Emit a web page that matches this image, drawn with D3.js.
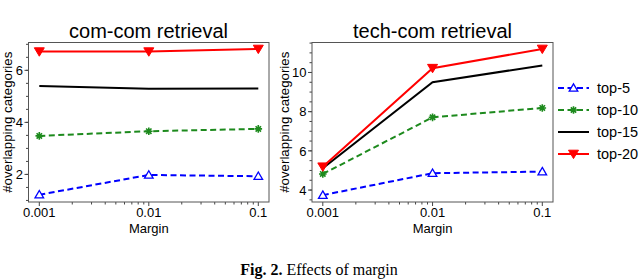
<!DOCTYPE html>
<html>
<head>
<meta charset="utf-8">
<script src="https://d3js.org/d3.v7.min.js"></script>
<style>
  body { margin: 0; background: #fff; }
  svg { display: block; }
  text { font-family: "Liberation Sans", Arial, sans-serif; fill: #000; }
</style>
</head>
<body>
<svg id="chart" width="640" height="279"></svg>
<script>
var margins = [0.001, 0.01, 0.1];
var seriesNames = ['top-5', 'top-10', 'top-15', 'top-20'];

// com-com retrieval
var comTop5 = [1.22, 1.98, 1.93];
var comTop10 = [3.48, 3.66, 3.75];
var comTop15 = [5.40, 5.29, 5.30];
var comTop20 = [6.72, 6.72, 6.82];

// tech-com retrieval
var techTop5 = [3.74, 4.86, 4.94];
var techTop10 = [4.82, 7.71, 8.19];
var techTop15 = [5.11, 9.50, 10.36];
var techTop20 = [5.19, 10.22, 11.20];

var xTickLabels = ['0.001', '0.01', '0.1'];
var comYTicks = [2, 4, 6];
var techYTicks = [4, 6, 8, 10];

var styles = {
  'top-5':  {color: '#0000ff', dash: '6,3.5', marker: 'triUp'},
  'top-10': {color: '#1d8a1d', dash: '6,3.5', marker: 'star'},
  'top-15': {color: '#000000', dash: null, marker: null},
  'top-20': {color: '#ff0000', dash: null, marker: 'triDown'}
};

var svg = d3.select('#chart');

function markerPath(type) {
  if (type === 'triUp') return 'M0,-4.2L4.3,3.2L-4.3,3.2Z';
  if (type === 'triDown') return 'M0,4.6L5,-3.8L-5,-3.8Z';
  if (type === 'star') {
    var r = 3.8, s = r * Math.SQRT1_2;
    return 'M' + -r + ',0L' + r + ',0M0,' + -r + 'L0,' + r +
      'M' + -s + ',' + -s + 'L' + s + ',' + s + 'M' + -s + ',' + s + 'L' + s + ',' + -s;
  }
  return null;
}

function drawMarker(g, type, color, x, y) {
  var p = g.append('path')
    .attr('d', markerPath(type))
    .attr('transform', 'translate(' + x + ',' + y + ')');
  if (type === 'triUp') p.attr('fill', '#fff').attr('stroke', color).attr('stroke-width', 1.3);
  else if (type === 'triDown') p.attr('fill', color).attr('stroke', color).attr('stroke-width', 1);
  else p.attr('fill', 'none').attr('stroke', color).attr('stroke-width', 1.6);
}

function panel(opts) {
  var g = svg.append('g');
  var x = d3.scaleLog().domain([0.001, 0.1]).range([opts.left + 10.8, opts.right - 10.7]);
  var y = d3.scaleLinear().domain(opts.yDomain).range([opts.bottom, opts.top]);

  // x axis ticks (log, with minors)
  var minors = [];
  [0.001, 0.01].forEach(function(d) {
    for (var k = 2; k <= 9; k++) minors.push(d * k);
  });
  g.selectAll('.xminor').data(minors).enter().append('line')
    .attr('x1', function(d) { return x(d); }).attr('x2', function(d) { return x(d); })
    .attr('y1', opts.bottom).attr('y2', opts.bottom + 2.5)
    .attr('stroke', '#444').attr('stroke-width', 1);
  g.selectAll('.xmajor').data(margins).enter().append('line')
    .attr('x1', function(d) { return x(d); }).attr('x2', function(d) { return x(d); })
    .attr('y1', opts.bottom).attr('y2', opts.bottom + 4)
    .attr('stroke', '#444').attr('stroke-width', 1);
  g.selectAll('.xlab').data(margins).enter().append('text')
    .attr('x', function(d) { return x(d); })
    .attr('y', opts.bottom + 15)
    .attr('text-anchor', 'middle')
    .style('font-size', '13px')
    .text(function(d, i) { return xTickLabels[i]; });

  // y axis ticks
  var yMinor = d3.range(Math.ceil(opts.yDomain[0] * 2) / 2, opts.yDomain[1], 0.5);
  g.selectAll('.yminor').data(yMinor).enter().append('line')
    .attr('x1', opts.left - 2.5).attr('x2', opts.left)
    .attr('y1', function(d) { return y(d); }).attr('y2', function(d) { return y(d); })
    .attr('stroke', '#444').attr('stroke-width', 1);
  g.selectAll('.ymajor').data(opts.yTicks).enter().append('line')
    .attr('x1', opts.left - 4).attr('x2', opts.left)
    .attr('y1', function(d) { return y(d); }).attr('y2', function(d) { return y(d); })
    .attr('stroke', '#444').attr('stroke-width', 1);
  g.selectAll('.ylab').data(opts.yTicks).enter().append('text')
    .attr('x', opts.left - 5.5)
    .attr('y', function(d) { return y(d); })
    .attr('dy', '0.36em')
    .attr('text-anchor', 'end')
    .style('font-size', '13px')
    .text(function(d) { return d; });

  // frame
  g.append('rect')
    .attr('x', opts.left).attr('y', opts.top)
    .attr('width', opts.right - opts.left).attr('height', opts.bottom - opts.top)
    .attr('fill', 'none').attr('stroke', '#555').attr('stroke-width', 1);

  // lines
  var line = d3.line().x(function(d, i) { return x(margins[i]); }).y(function(d) { return y(d); });
  opts.series.forEach(function(vals, si) {
    var st = styles[seriesNames[si]];
    g.append('path').datum(vals)
      .attr('d', line)
      .attr('fill', 'none')
      .attr('stroke', st.color)
      .attr('stroke-width', 2)
      .attr('stroke-dasharray', st.dash);
    if (st.marker) {
      vals.forEach(function(v, i) { drawMarker(g, st.marker, st.color, x(margins[i]), y(v)); });
    }
  });

  // titles
  g.append('text')
    .attr('x', opts.titleX).attr('y', 37.5)
    .attr('text-anchor', 'middle')
    .style('font-size', '20px')
    .text(opts.title);
  g.append('text')
    .attr('x', x(0.01)).attr('y', 233)
    .attr('text-anchor', 'middle')
    .style('font-size', '13px')
    .text('Margin');
  g.append('text')
    .attr('transform', 'translate(' + opts.yTitleX + ',' + (opts.top + opts.bottom) / 2 + ') rotate(-90)')
    .attr('text-anchor', 'middle')
    .attr('dy', '0.35em')
    .style('font-size', '13.3px')
    .text('#overlapping categories');
}

panel({
  title: 'com-com retrieval', titleX: 148.5,
  left: 28.5, right: 269, top: 42.5, bottom: 202,
  yDomain: [0.94, 7.07], yTicks: comYTicks, yTitleX: 7.5,
  series: [comTop5, comTop10, comTop15, comTop20]
});

panel({
  title: 'tech-com retrieval', titleX: 432.5,
  left: 312, right: 553, top: 42.5, bottom: 202,
  yDomain: [3.39, 11.53], yTicks: techYTicks, yTitleX: 284,
  series: [techTop5, techTop10, techTop15, techTop20]
});

// legend
var legend = svg.append('g');
var legRows = [88, 110, 132, 154];
seriesNames.forEach(function(name, i) {
  var st = styles[name];
  var yy = legRows[i];
  legend.append('line')
    .attr('x1', 558).attr('x2', 589).attr('y1', yy).attr('y2', yy)
    .attr('stroke', st.color).attr('stroke-width', 2)
    .attr('stroke-dasharray', st.dash);
  if (st.marker) drawMarker(legend, st.marker, st.color, 573.5, yy);
  legend.append('text')
    .attr('x', 597).attr('y', yy).attr('dy', '0.36em')
    .style('font-size', '14.5px')
    .text(name);
});

// caption
var cap = svg.append('text')
  .attr('x', 319).attr('y', 275)
  .attr('text-anchor', 'middle')
  .style('font-family', '"Liberation Serif", "Times New Roman", serif')
  .style('font-size', '16px');
cap.append('tspan').style('font-weight', 'bold').text('Fig. 2.');
cap.append('tspan').text(' Effects of margin');
</script>
</body>
</html>
